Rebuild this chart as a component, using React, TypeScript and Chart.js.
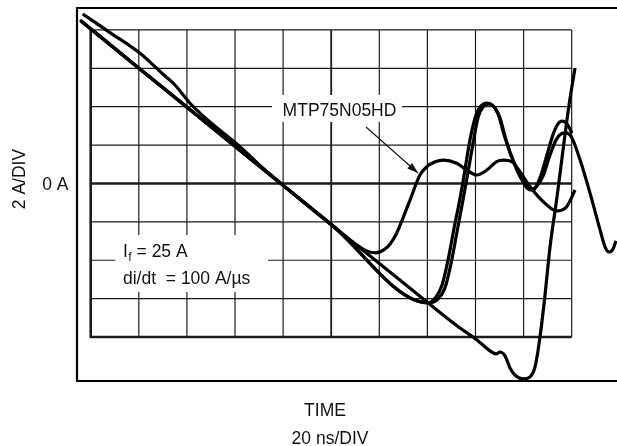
import React, { useEffect, useRef } from "react";
import { Chart, registerables } from "chart.js";

Chart.register(...registerables);

// Grid divisions (20 ns/DIV horizontally, 2 A/DIV vertically)
const xGridNs = [0, 20, 40, 60, 80, 100, 120, 140, 160, 180, 200];
const yGridAmps = [-8, -6, -4, -2, 0, 2, 4, 6, 8];

// Trace A – earliest recovery (the one pointed at by the MTP75N05HD arrow)
const traceA_ns = [-4.45, 0.42, 20, 40, 60, 80, 100, 110, 114.5, 118.5, 122, 124.5, 127.2, 130, 132.8, 136.9, 139.7, 143, 146.6, 152.2, 156.3, 160.5, 164.7, 168.8, 171.6, 175.1, 178.5, 182.7, 188.2, 193.8, 197.9, 201.4];
const traceA_amps = [8.52, 8.02, 6.02, 3.98, 1.94, -0.1, -2.14, -3.15, -3.5, -3.62, -3.45, -3.15, -2.59, -1.75, -0.86, 0.44, 0.87, 1.12, 1.22, 1.05, 0.7, 0.44, 0.7, 1.14, 1.22, 1.14, 0.61, -0.17, -0.95, -1.43, -1.21, -0.34];

// Trace B – tall ringing peak
const traceB_ns = [0.1, 20, 60, 100, 140.25, 143.6, 146.1, 148.6, 151.1, 153.6, 155.6, 157.7, 160.2, 162.3, 164.8, 167.3, 169.4, 171.9, 175.2, 178.5, 181.4, 183.9, 186.8, 189.7, 192.2, 194.3, 196.0, 198.1, 200.1];
const traceB_amps = [8.05, 6.0, 1.93, -2.15, -6.22, -5.91, -5.29, -3.98, -2.32, -0.76, 0.7, 2.27, 3.57, 4.04, 4.19, 4.04, 3.62, 2.53, 1.33, 0.44, -0.23, -0.34, 0.29, 1.48, 2.53, 3.1, 3.25, 3.1, 2.63];

// Trace C – tall peak, then rings out past the right edge of the grid
const traceC_ns = [-4.0, 20, 60, 100, 140.25, 144.4, 147.3, 149.8, 152.3, 154.8, 156.9, 159.0, 161.0, 163.1, 165.6, 168.1, 170.2, 172.7, 176.0, 179.3, 182.7, 185.2, 188.1, 191.0, 193.5, 195.6, 197.6, 200.1, 203.5, 207.6, 211.8, 213.9, 215.5, 217.2, 218.4];
const traceC_amps = [8.45, 6.0, 1.95, -2.13, -6.22, -6.02, -5.44, -4.19, -2.53, -0.86, 0.6, 2.1, 3.41, 3.98, 4.14, 3.93, 3.41, 2.27, 1.07, 0.18, -0.34, -0.18, 0.39, 1.48, 2.27, 2.58, 2.63, 2.37, 1.22, -0.49, -2.42, -3.31, -3.57, -3.41, -2.99];

// Trace D – slowest device, deepest reverse current then steep snap
const traceD_ns = [-3.33, 8.02, 20.5, 27.44, 30.9, 35.05, 41.29, 49.6, 62.08, 70, 100.2, 140.25, 153.56, 160.63, 166.03, 168.53, 170.19, 172.27, 174.35, 176.84, 179.76, 182.67, 184.75, 186.83, 188.91, 190.99, 193.9, 196.4, 198.89, 201.39];
const traceD_amps = [8.83, 7.86, 6.78, 6.0, 5.6, 5.13, 4.18, 3.2, 1.92, 0.98, -2.16, -6.22, -7.53, -8.15, -8.72, -8.88, -8.78, -8.98, -9.61, -10.03, -10.18, -10.08, -9.56, -7.99, -5.81, -3.31, -0.7, 1.74, 4.09, 6.02];

const toPoints = (xs: number[], ys: number[]) => xs.map((x, i) => ({ x, y: ys[i] }));

const FONT = '"Liberation Sans", Arial, Helvetica, sans-serif';

const scopePlugin = {
  id: "scopeDecor",
  beforeDatasetsDraw(chart: any) {
    const { ctx, chartArea } = chart;
    const xs = chart.scales.x;
    const ys = chart.scales.y;
    const gl = xs.getPixelForValue(xGridNs[0]);
    const gr = xs.getPixelForValue(xGridNs[xGridNs.length - 1]);
    const gt = ys.getPixelForValue(yGridAmps[yGridAmps.length - 1]);
    const gb = ys.getPixelForValue(yGridAmps[0]);
    ctx.save();
    ctx.strokeStyle = "#1c1c1c";
    ctx.lineCap = "butt";
    xGridNs.forEach((v) => {
      const p = xs.getPixelForValue(v);
      ctx.lineWidth = v === 0 ? 2.6 : v === 100 ? 1.8 : 1.2;
      ctx.beginPath();
      ctx.moveTo(p, gt);
      ctx.lineTo(p, gb);
      ctx.stroke();
    });
    yGridAmps.forEach((v) => {
      const p = ys.getPixelForValue(v);
      ctx.lineWidth = v === 0 ? 2.4 : v === -8 ? 2.6 : 1.2;
      ctx.beginPath();
      ctx.moveTo(gl - 1, p);
      ctx.lineTo(gr, p);
      ctx.stroke();
    });
    // white label backgrounds covering the graticule
    ctx.fillStyle = "#ffffff";
    ctx.fillRect(272, 95, 130, 27);
    ctx.fillRect(115, 235, 153, 57);
    // outer frame (left, top, bottom; open on the right edge)
    ctx.strokeStyle = "#000";
    ctx.lineWidth = 2.2;
    ctx.beginPath();
    ctx.moveTo(chartArea.right, chartArea.top);
    ctx.lineTo(chartArea.left, chartArea.top);
    ctx.lineTo(chartArea.left, chartArea.bottom);
    ctx.lineTo(chartArea.right, chartArea.bottom);
    ctx.stroke();
    ctx.restore();
  },
  afterDatasetsDraw(chart: any) {
    const { ctx } = chart;
    ctx.save();
    ctx.fillStyle = "#111";
    ctx.textBaseline = "alphabetic";
    const f = `17.5px ${FONT}`;
    ctx.font = f;

    // device label + arrow
    ctx.textAlign = "center";
    ctx.fillText("MTP75N05HD", 339.5, 116);
    const x1 = 366, y1 = 127, x2 = 418, y2 = 173;
    ctx.strokeStyle = "#111";
    ctx.lineWidth = 1.1;
    ctx.beginPath();
    ctx.moveTo(x1, y1);
    ctx.lineTo(x2, y2);
    ctx.stroke();
    const ang = Math.atan2(y2 - y1, x2 - x1);
    const L = 11, W = 3.6;
    ctx.beginPath();
    ctx.moveTo(x2, y2);
    ctx.lineTo(x2 - L * Math.cos(ang) + W * Math.sin(ang), y2 - L * Math.sin(ang) - W * Math.cos(ang));
    ctx.lineTo(x2 - L * Math.cos(ang) - W * Math.sin(ang), y2 - L * Math.sin(ang) + W * Math.cos(ang));
    ctx.closePath();
    ctx.fill();

    // test conditions
    ctx.textAlign = "left";
    let x = 123;
    ctx.fillText("I", x, 256.5);
    x += ctx.measureText("I").width;
    ctx.font = `12px ${FONT}`;
    ctx.fillText("f", x + 0.5, 261);
    x += ctx.measureText("f").width + 0.5;
    ctx.font = f;
    ctx.fillText(" = 25 A", x, 256.5);
    ctx.fillText("di/dt  = 100 A/\u00B5s", 123, 283.5);

    // axis texts
    ctx.textAlign = "right";
    ctx.fillText("0 A", 68.5, 190);
    ctx.textAlign = "center";
    ctx.fillText("TIME", 325, 416);
    ctx.fillText("20 ns/DIV", 330, 444);
    ctx.save();
    ctx.translate(25, 179);
    ctx.rotate(-Math.PI / 2);
    ctx.fillText("2 A/DIV", 0, 0);
    ctx.restore();
    ctx.restore();
  },
};

export default function App() {
  const ref = useRef<HTMLCanvasElement | null>(null);
  useEffect(() => {
    if (!ref.current) return;
    const ds = (xs: number[], ys: number[]) => ({
      data: toPoints(xs, ys),
      borderColor: "#000",
      borderWidth: 3.2,
      pointRadius: 0,
      fill: false,
      cubicInterpolationMode: "monotone" as const,
      clip: 10,
    });
    const chart = new Chart(ref.current, {
      type: "line",
      data: {
        datasets: [
          ds(traceD_ns, traceD_amps),
          ds(traceA_ns, traceA_amps),
          ds(traceB_ns, traceB_amps),
          ds(traceC_ns, traceC_amps),
        ],
      },
      options: {
        responsive: false,
        animation: false,
        events: [],
        layout: { padding: { left: 77, top: 8, right: 0, bottom: 65 } },
        scales: {
          x: { type: "linear", min: -5.7, max: 218.84, display: false },
          y: { type: "linear", min: -10.29, max: 9.14, display: false },
        },
        plugins: { legend: { display: false }, tooltip: { enabled: false } },
      },
      plugins: [scopePlugin],
    });
    return () => chart.destroy();
  }, []);
  return (
    <div style={{ position: "absolute", left: 0, top: 0, width: 617, height: 446, background: "#fff" }}>
      <canvas ref={ref} width={617} height={446} style={{ display: "block" }} />
    </div>
  );
}
